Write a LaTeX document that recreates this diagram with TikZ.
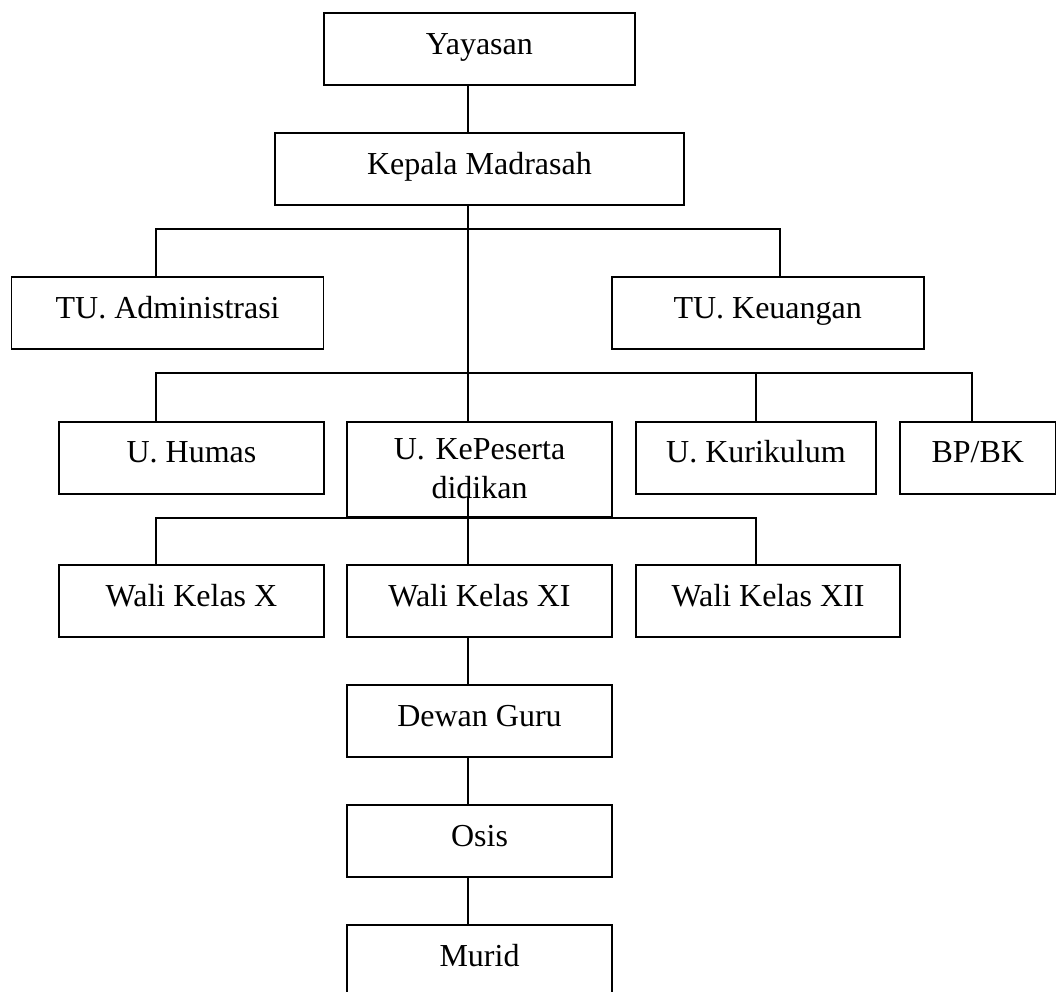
\documentclass[tikz,border=0pt]{standalone}
\usepackage{fontspec}
\setmainfont{Liberation Serif}
\usetikzlibrary{positioning}

\begin{document}
\begin{tikzpicture}[
  x=1pt, y=-1pt,
  node distance=48pt,
  line width=1.7pt,
  unit/.style={draw,rectangle,inner sep=0pt,outer sep=0pt,anchor=north,
    text height=41pt,text depth=31pt,font=\fontsize{32}{38.4}\selectfont}
]
\useasboundingbox (0,0) rectangle (1057,991);

\node[unit,minimum width=311pt] (yayasan) at (479.4,13.3) {Yayasan};
\node[unit,minimum width=409pt,below=of yayasan] (kepala) {Kepala Madrasah};

\node[unit,minimum width=312pt] (tuadm) at (167.6,277) {TU. Administrasi};
\node[unit,minimum width=312pt] (tukeu) at (767.7,277) {TU. Keuangan};

\node[unit,minimum width=264.4pt] (humas) at (191.5,421.7) {U. Humas};
\node[unit,text width=264.4pt,align=center,text height=38pt,text depth=57pt]
  (pesdik) at (479.5,421.7) {U. KePeserta\\didikan};
\node[unit,minimum width=240pt] (kurikulum) at (756,421.7) {U. Kurikulum};
\node[unit,minimum width=155.5pt] (bpbk) at (977.75,421.7) {BP/BK};

\node[unit,minimum width=264.4pt] (walix) at (191.5,565.3) {Wali Kelas X};
\node[unit,minimum width=264.4pt] (walixi) at (479.5,565.3) {Wali Kelas XI};
\node[unit,minimum width=264pt] (walixii) at (768,565.3) {Wali Kelas XII};

\node[unit,minimum width=264.4pt,below=of walixi] (dewan) {Dewan Guru};
\node[unit,minimum width=264.4pt,below=of dewan] (osis) {Osis};
\node[unit,minimum width=264.4pt,below=of osis] (murid) {Murid};

% garis penghubung
\coordinate (spine) at (468,0);
\coordinate (xa) at (156,0);
\coordinate (xb) at (756,0);
\coordinate (xc) at (780,0);
\coordinate (xd) at (972,0);
\coordinate (busa) at (468,229);
\coordinate (busb) at (468,373);
\coordinate (busc) at (468,517.7);
\coordinate (pesdikout) at (468,497);

\draw (yayasan.south -| spine) -- (kepala.north -| spine);
\draw (kepala.south -| spine) -- (pesdik.north -| spine);
\draw (tuadm.north -| xa) |- (busa) -| (tukeu.north -| xc);
\draw (humas.north -| xa) |- (busb) -| (bpbk.north -| xd);
\draw (busb -| xb) -- (kurikulum.north -| xb);
\draw (pesdikout) -- (walixi.north -| spine);
\draw (walix.north -| xa) |- (busc) -| (walixii.north -| xb);
\draw (walixi.south -| spine) -- (dewan.north -| spine);
\draw (dewan.south -| spine) -- (osis.north -| spine);
\draw (osis.south -| spine) -- (murid.north -| spine);
\end{tikzpicture}
\end{document}
